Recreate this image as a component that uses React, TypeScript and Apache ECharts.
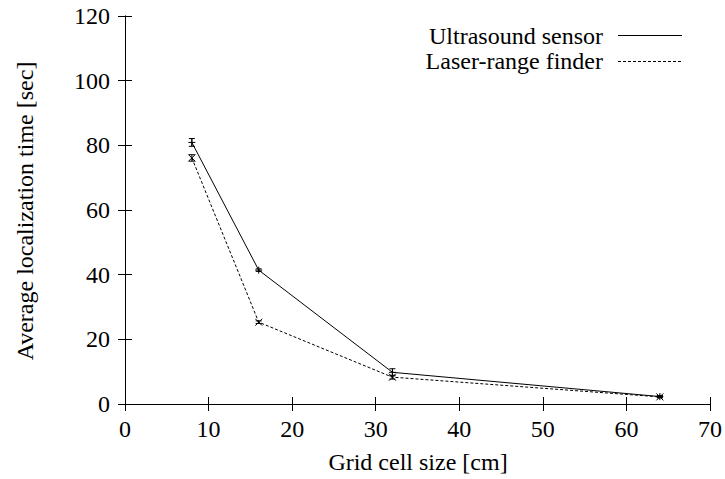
import React, { useEffect, useRef } from "react";
import * as echarts from "echarts";

const xValues = [8, 16, 32, 64];
const ultrasound = [80.9, 41.4, 9.8, 2.3];
const ultrasoundErr = [1.2, 0.4, 1.1, 0.3];
const laser = [76.1, 25.3, 8.3, 2.2];
const laserErr = [1.0, 0.4, 0.6, 0.3];
const seriesNames = ["Ultrasound sensor", "Laser-range finder"];
const xAxisTitle = "Grid cell size [cm]";
const yAxisTitle = "Average localization time [sec]";

const FONT = "Liberation Serif";

function errorSeries(name: string, ys: number[], errs: number[], marker: "plus" | "cross") {
  return {
    type: "custom",
    name: name + " err",
    xAxisIndex: 0,
    yAxisIndex: 0,
    z: 5,
    silent: true,
    data: xValues.map((x, i) => [x, ys[i], errs[i]]),
    renderItem: (params: any, api: any) => {
      const x = api.value(0);
      const y = api.value(1);
      const e = api.value(2);
      const c = api.coord([x, y]);
      const lo = api.coord([x, y - e]);
      const hi = api.coord([x, y + e]);
      const st = { stroke: "#000", lineWidth: 1 };
      const cap = 3;
      const s = 3.5;
      const children: any[] = [
        { type: "line", shape: { x1: c[0], y1: lo[1], x2: c[0], y2: hi[1] }, style: st },
        { type: "line", shape: { x1: c[0] - cap, y1: lo[1], x2: c[0] + cap, y2: lo[1] }, style: st },
        { type: "line", shape: { x1: c[0] - cap, y1: hi[1], x2: c[0] + cap, y2: hi[1] }, style: st },
      ];
      if (marker === "plus") {
        children.push({ type: "line", shape: { x1: c[0] - s, y1: c[1], x2: c[0] + s, y2: c[1] }, style: st });
        children.push({ type: "line", shape: { x1: c[0], y1: c[1] - s, x2: c[0], y2: c[1] + s }, style: st });
      } else {
        children.push({ type: "line", shape: { x1: c[0] - s, y1: c[1] - s, x2: c[0] + s, y2: c[1] + s }, style: st });
        children.push({ type: "line", shape: { x1: c[0] - s, y1: c[1] + s, x2: c[0] + s, y2: c[1] - s }, style: st });
      }
      return { type: "group", children };
    },
  };
}

export default function App() {
  const ref = useRef<HTMLDivElement>(null);
  useEffect(() => {
    if (!ref.current) return;
    const chart = echarts.init(ref.current, undefined, { renderer: "svg" });
    const axisLine = { show: true, lineStyle: { color: "#000", width: 1 } };
    const tickStyle = { show: true, inside: true, length: 7, lineStyle: { color: "#000", width: 1 } };
    const labelStyle = { color: "#000", fontFamily: FONT, fontSize: 24 };
    const textFont = `24px "${FONT}"`;
    chart.setOption({
      animation: false,
      backgroundColor: "#fff",
      grid: { left: 125, right: 14, top: 16, bottom: 75, containLabel: false },
      graphic: [
        {
          type: "text",
          x: 25,
          y: 211,
          rotation: Math.PI / 2,
          style: {
            text: yAxisTitle,
            fill: "#000",
            font: textFont,
            align: "center",
            verticalAlign: "middle",
          },
        },
        {
          type: "text",
          x: 418,
          y: 462,
          style: {
            text: xAxisTitle,
            fill: "#000",
            font: textFont,
            align: "center",
            verticalAlign: "middle",
          },
        },
        {
          type: "text",
          x: 603,
          y: 36,
          style: { text: seriesNames[0], fill: "#000", font: textFont, lineHeight: 22, align: "right", verticalAlign: "middle" },
        },
        {
          type: "text",
          x: 603,
          y: 61,
          style: { text: seriesNames[1], fill: "#000", font: textFont, lineHeight: 22, align: "right", verticalAlign: "middle" },
        },
        {
          type: "line",
          shape: { x1: 618, y1: 35.5, x2: 682, y2: 35.5 },
          style: { stroke: "#000", lineWidth: 1 },
        },
        {
          type: "line",
          shape: { x1: 618, y1: 61.5, x2: 682, y2: 61.5 },
          style: { stroke: "#000", lineWidth: 1, lineDash: [3, 2] },
        },
      ],
      xAxis: [
        {
          type: "value",
          min: 0,
          max: 70,
          interval: 10,
          axisLine,
          axisTick: tickStyle,
          axisLabel: { ...labelStyle, margin: 13 },
          splitLine: { show: false },
        },
        {
          type: "value",
          position: "top",
          min: 0,
          max: 70,
          interval: 10,
          axisLine,
          axisTick: tickStyle,
          axisLabel: { show: false },
          splitLine: { show: false },
        },
      ],
      yAxis: [
        {
          type: "value",
          min: 0,
          max: 120,
          interval: 20,
          axisLine,
          axisTick: tickStyle,
          axisLabel: { ...labelStyle, margin: 15 },
          splitLine: { show: false },
        },
        {
          type: "value",
          position: "right",
          min: 0,
          max: 120,
          interval: 20,
          axisLine,
          axisTick: tickStyle,
          axisLabel: { show: false },
          splitLine: { show: false },
        },
      ],
      series: [
        {
          type: "line",
          name: seriesNames[0],
          data: xValues.map((x, i) => [x, ultrasound[i]]),
          symbol: "none",
          lineStyle: { color: "#000", width: 1, type: "solid" },
          itemStyle: { color: "#000" },
        },
        {
          type: "line",
          name: seriesNames[1],
          data: xValues.map((x, i) => [x, laser[i]]),
          symbol: "none",
          lineStyle: { color: "#000", width: 1, type: [3, 2] },
          itemStyle: { color: "#000" },
        },
        errorSeries(seriesNames[0], ultrasound, ultrasoundErr, "plus"),
        errorSeries(seriesNames[1], laser, laserErr, "cross"),
      ],
    });
    return () => chart.dispose();
  }, []);
  return <div ref={ref} style={{ width: 725, height: 479, position: "absolute", left: 0, top: 0 }} />;
}
